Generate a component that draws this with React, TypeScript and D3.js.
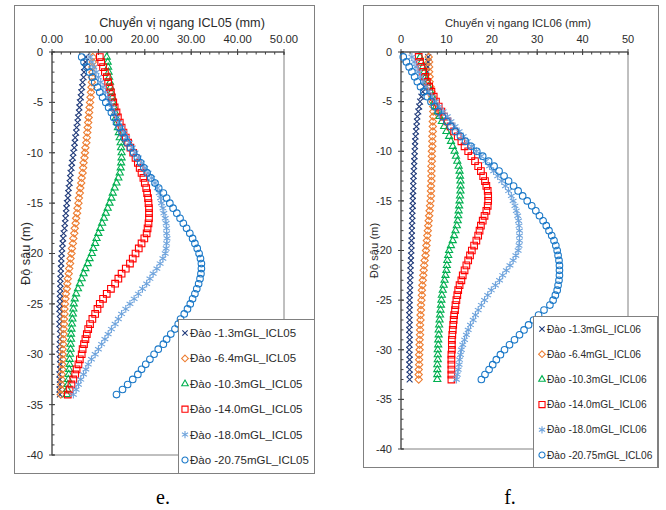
import React from 'react';
import * as d3 from 'd3';

// depth of each inclinometer reading (m), every 0.5 m
const DEPTHS = [
  -0.5, -1, -1.5, -2, -2.5, -3, -3.5, -4, -4.5, -5,
  -5.5, -6, -6.5, -7, -7.5, -8, -8.5, -9, -9.5, -10,
  -10.5, -11, -11.5, -12, -12.5, -13, -13.5, -14, -14.5, -15,
  -15.5, -16, -16.5, -17, -17.5, -18, -18.5, -19, -19.5, -20,
  -20.5, -21, -21.5, -22, -22.5, -23, -23.5, -24, -24.5, -25,
  -25.5, -26, -26.5, -27, -27.5, -28, -28.5, -29, -29.5, -30,
  -30.5, -31, -31.5, -32, -32.5, -33, -33.5, -34,
];

const STAGES = ['Đào -1.3mGL', 'Đào -6.4mGL', 'Đào -10.3mGL', 'Đào -14.0mGL', 'Đào -18.0mGL', 'Đào -20.75mGL'];

// ICL05 horizontal displacement (mm)
const icl05_s1 = [7.3,7.2,7.0,6.9,6.8,6.6,6.5,6.3,6.2,6.0,5.9,5.8,5.6,5.5,5.3,5.2,5.0,4.9,4.8,4.6,4.5,4.3,4.2,4.0,3.9,3.8,3.6,3.5,3.4,3.2,3.1,3.0,2.9,2.8,2.7,2.5,2.4,2.3,2.2,2.1,2.0,2.0,1.9,1.9,1.8,1.8,1.8,1.7,1.7,1.7,1.6,1.7,1.7,1.6,1.7,1.8,1.7,1.7,1.6,1.7,1.7,1.8,1.7,1.6,1.7,1.7,1.6,1.7];
const icl05_s2 = [8.8,8.8,8.7,8.7,8.6,8.6,8.5,8.4,8.3,8.2,8.1,8.0,7.9,7.8,7.7,7.6,7.5,7.4,7.2,7.1,7.0,6.8,6.7,6.6,6.4,6.3,6.1,6.0,5.8,5.7,5.5,5.4,5.2,5.1,4.9,4.8,4.6,4.5,4.3,4.2,4.0,3.9,3.7,3.6,3.4,3.3,3.2,3.0,2.9,2.8,2.7,2.7,2.6,2.6,2.5,2.5,2.4,2.4,2.3,2.3,2.3,2.2,2.2,2.1,2.1,2.0,2.0,1.9];
const icl05_s3 = [11.8,12.0,12.1,12.2,12.3,12.5,12.6,12.8,13.0,13.2,13.4,13.6,13.8,14.0,14.2,14.4,14.6,14.8,14.9,15.0,15.0,14.9,14.8,14.6,14.3,13.9,13.5,13.1,12.8,12.4,12.0,11.6,11.2,10.8,10.4,10.0,9.6,9.3,8.9,8.6,8.1,7.7,7.2,6.8,6.4,6.0,5.6,5.2,4.9,4.7,4.6,4.5,4.4,4.3,4.2,4.1,4.1,4.0,4.0,3.9,3.8,3.8,3.7,3.6,3.5,3.4,3.3,3.2];
const icl05_s4 = [10.3,10.6,11.0,11.4,11.8,12.1,12.4,12.7,12.9,13.2,13.5,13.9,14.2,14.6,15.0,15.4,15.9,16.4,16.9,17.5,18.0,18.5,18.9,19.3,19.7,20.0,20.3,20.5,20.7,20.8,20.9,20.9,20.9,20.8,20.6,20.4,19.9,19.3,18.7,18.0,17.4,16.8,15.9,15.0,14.3,13.6,12.7,11.8,11.0,10.3,9.8,9.3,8.7,8.2,7.8,7.5,7.2,6.9,6.6,6.4,6.0,5.7,5.3,5.0,4.6,4.2,3.8,3.4];
const icl05_s5 = [8.2,8.6,9.0,9.5,10.0,10.5,11.0,11.5,12.0,12.5,12.9,13.4,13.9,14.4,15.0,15.5,16.1,16.7,17.3,17.9,18.6,19.3,20.0,20.7,21.5,22.2,22.7,23.1,23.4,23.6,23.9,24.1,24.4,24.6,24.7,24.7,24.8,24.7,24.6,24.4,23.9,23.3,22.6,21.8,21.1,20.4,19.5,18.6,17.7,16.8,15.9,15.0,14.3,13.6,12.8,12.1,11.4,10.7,10.0,9.3,8.5,7.8,7.3,6.8,6.2,5.7,5.2,4.6];
const icl05_s6 = [6.4,6.9,7.5,8.1,8.7,9.2,9.8,10.3,10.9,11.6,12.2,12.8,13.3,13.9,14.5,15.1,15.6,16.2,16.9,17.6,18.4,19.1,19.8,20.5,21.3,22.2,23.0,24.0,24.7,25.4,26.1,26.9,27.6,28.3,29.0,29.7,30.3,30.8,31.3,31.7,32.0,32.2,32.2,32.1,31.9,31.6,31.2,30.8,30.3,29.8,29.2,28.5,27.7,27.2,26.5,25.6,24.7,24.0,22.9,22.0,21.1,20.2,19.3,18.5,17.4,16.3,15.2,13.9];

// ICL06 horizontal displacement (mm), readings down to -33 m
const icl06_s1 = [6.0,6.0,5.9,5.8,5.6,5.4,5.1,4.8,4.5,4.2,4.0,3.8,3.6,3.5,3.4,3.3,3.2,3.1,3.1,3.0,3.0,2.9,2.9,2.8,2.8,2.7,2.7,2.7,2.6,2.6,2.6,2.5,2.5,2.5,2.4,2.4,2.4,2.3,2.3,2.3,2.2,2.2,2.1,2.1,2.1,2.0,2.0,2.0,1.9,1.9,1.9,1.9,1.8,1.9,1.9,1.8,1.9,1.9,1.9,1.8,1.9,1.9,1.8,1.9,1.9,1.9];
const icl06_s2 = [6.1,6.2,6.2,6.2,6.3,6.3,6.5,6.7,6.9,7.0,7.1,7.1,7.1,7.0,7.0,7.0,6.9,6.9,6.9,6.8,6.8,6.8,6.7,6.7,6.7,6.7,6.6,6.6,6.6,6.5,6.4,6.3,6.2,6.1,6.0,5.9,5.8,5.7,5.6,5.5,5.4,5.2,5.1,5.0,4.9,4.8,4.7,4.6,4.6,4.5,4.4,4.4,4.3,4.3,4.2,4.2,4.2,4.1,4.1,4.1,4.0,4.0,4.0,3.9,3.9,3.9];
const icl06_s3 = [4.2,4.5,4.8,5.1,5.4,5.8,6.1,6.5,6.9,7.3,7.7,8.1,8.5,9.0,9.5,10.0,10.6,11.0,11.4,11.8,12.1,12.4,12.7,12.9,13.0,13.1,13.1,13.1,13.0,12.9,12.8,12.7,12.6,12.5,12.3,12.0,11.7,11.4,11.0,10.6,10.4,10.2,10.1,10.0,9.8,9.6,9.4,9.2,9.0,8.9,8.8,8.7,8.6,8.5,8.4,8.3,8.3,8.2,8.2,8.1,8.1,8.1,8.0,8.0,8.0,8.0];
const icl06_s4 = [3.9,4.2,4.5,4.9,5.3,5.7,6.2,6.7,7.2,7.7,8.3,8.9,9.5,10.2,10.9,11.7,12.5,13.3,14.0,14.8,15.5,16.3,17.0,17.6,18.1,18.5,18.8,19.1,19.2,19.2,19.1,18.8,18.4,18.0,17.6,17.3,17.0,16.6,16.1,15.6,15.2,14.8,14.4,14.0,13.6,13.3,12.9,12.6,12.4,12.2,12.0,11.9,11.7,11.6,11.5,11.4,11.3,11.2,11.2,11.2,11.1,11.1,11.1,11.1,11.1,11.1];
const icl06_s5 = [2.4,2.9,3.3,3.8,4.3,4.9,5.5,6.1,6.8,7.6,8.4,9.3,10.2,11.0,11.9,12.8,13.7,14.6,15.6,16.6,17.6,18.6,19.5,20.4,21.3,22.2,23.0,23.7,24.3,24.7,25.1,25.4,25.7,25.9,26.0,26.1,26.1,26.1,26.0,25.8,25.3,24.7,24.0,23.2,22.4,21.7,20.8,19.9,19.1,18.4,17.7,17.0,16.4,15.9,15.3,14.8,14.4,14.0,13.6,13.3,13.1,12.9,12.8,12.6,12.4,12.2];
const icl06_s6 = [0.5,1.2,1.8,2.4,3.0,3.6,4.3,5.0,5.8,6.6,7.4,8.2,9.1,10.1,11.0,12.0,13.1,14.2,15.4,16.7,18.0,19.3,20.5,21.6,22.7,23.7,24.8,25.8,26.8,27.8,28.8,29.7,30.5,31.3,32.0,32.6,33.2,33.7,34.1,34.4,34.6,34.8,34.9,34.9,34.9,34.8,34.6,34.4,34.0,33.5,32.8,31.5,30.3,29.2,28.1,27.1,26.1,25.0,23.9,22.8,21.9,21.0,20.2,19.4,18.5,17.7];

const COLORS = ['#1f3a7a', '#ed7d31', '#00b050', '#ff0000', '#6ea3dc', '#1a78c8'];
const SYMBOLS = [(d3 as any).symbolTimes || d3.symbolCross, d3.symbolDiamond2, d3.symbolTriangle2, d3.symbolSquare2, d3.symbolAsterisk, d3.symbolCircle];
const SIZES = [24, 34, 36, 56, 42, 34];

const FONT = '"Liberation Sans", Arial, sans-serif';

function Panel(props: any) {
  const { frame, plot, title, titleX, fmt, series, suffix, legend, fs, yLabelX, caption } = props;
  const x = d3.scaleLinear().domain([0, 50]).range([plot.left, plot.right]);
  const y = d3.scaleLinear().domain([0, -40]).range([plot.top, plot.bottom]);
  const axisColor = '#404040';
  const txt = '#2b2b2b';

  return (
    <g>
      <rect x={frame.x0 + 0.5} y={frame.y0 + 0.5} width={frame.x1 - frame.x0} height={frame.y1 - frame.y0} fill="#fff" stroke="#808080" strokeWidth={1} />
      <text x={titleX} y={27} textAnchor="middle" fontSize={fs.title} fontFamily={FONT} fill={txt}>{title}</text>
      <rect x={plot.left} y={plot.top} width={plot.right - plot.left} height={plot.bottom - plot.top} fill="none" stroke="#808080" strokeWidth={1} />
      {/* top axis */}
      <line x1={plot.left} x2={plot.right} y1={plot.top} y2={plot.top} stroke={axisColor} />
      {x.ticks(25).map((t) => (
        <line key={'xm' + t} x1={x(t)} x2={x(t)} y1={plot.top} y2={plot.top + 2.5} stroke={axisColor} />
      ))}
      {x.ticks(5).map((t) => (
        <g key={'x' + t}>
          <line x1={x(t)} x2={x(t)} y1={plot.top - 3} y2={plot.top + 3} stroke={axisColor} />
          <text x={x(t)} y={43} textAnchor="middle" fontSize={fs.tick} fontFamily={FONT} fill={txt}>{fmt(t)}</text>
        </g>
      ))}
      {/* left axis */}
      <line x1={plot.left} x2={plot.left} y1={plot.top} y2={plot.bottom} stroke={axisColor} />
      {y.ticks(40).map((t) => (
        <line key={'ym' + t} x1={plot.left} x2={plot.left + 2.5} y1={y(t)} y2={y(t)} stroke={axisColor} />
      ))}
      {y.ticks(8).map((t) => (
        <g key={'y' + t}>
          <line x1={plot.left - 3} x2={plot.left + 3} y1={y(t)} y2={y(t)} stroke={axisColor} />
          <text x={plot.left - 9} y={y(t)} dy="0.35em" textAnchor="end" fontSize={fs.tick} fontFamily={FONT} fill={txt}>{t}</text>
        </g>
      ))}
      <text transform={`translate(${yLabelX},${(plot.top + plot.bottom) / 2}) rotate(-90)`} textAnchor="middle" dy="0.35em" fontSize={fs.title} fontFamily={FONT} fill={txt}>Độ sâu (m)</text>

      {series.map((vals: number[], i: number) => {
        const sym = d3.symbol().type(SYMBOLS[i]).size(SIZES[i])();
        return (
          <g key={'s' + i} fill="none" stroke={COLORS[i]} strokeWidth={1.1}>
            {vals.map((v, j) => (
              <path key={j} d={sym as string} transform={`translate(${x(v)},${y(DEPTHS[j])})`} />
            ))}
          </g>
        );
      })}

      <rect x={legend.x + 0.5} y={legend.y + 0.5} width={legend.w} height={legend.h} fill="#fff" stroke="#808080" />
      {STAGES.map((s, i) => {
        const sym = d3.symbol().type(SYMBOLS[i]).size(SIZES[i] * 0.85)();
        const cy = legend.itemY + i * legend.step;
        return (
          <g key={'l' + i}>
            <path d={sym as string} transform={`translate(${legend.x + legend.mx},${cy})`} fill="none" stroke={COLORS[i]} strokeWidth={1.1} />
            <text x={legend.x + legend.tx} y={cy} dy="0.35em" fontSize={fs.legend} fontFamily={FONT} fill={txt}>{s + suffix}</text>
          </g>
        );
      })}
      <text x={caption} y={504} textAnchor="middle" fontSize={20} fontFamily='"Liberation Serif", "Times New Roman", serif' fill="#000">
        {suffix === '_ICL05' ? 'e.' : 'f.'}
      </text>
    </g>
  );
}

export default function App() {
  return (
    <svg width={666} height={510} style={{ position: 'absolute', left: 0, top: 0, background: '#fff' }}>
      <rect width={666} height={510} fill="#fff" />
      <Panel
        frame={{ x0: 14, y0: 5, x1: 314, y1: 473 }}
        plot={{ left: 52, top: 52, right: 284, bottom: 455 }}
        title="Chuyển vị ngang ICL05 (mm)"
        titleX={182}
        fmt={d3.format('.2f')}
        series={[icl05_s1, icl05_s2, icl05_s3, icl05_s4, icl05_s5, icl05_s6]}
        suffix="_ICL05"
        legend={{ x: 178, y: 319, w: 136, h: 154, itemY: 333, step: 25.4, mx: 7, tx: 12 }}
        fs={{ title: 12.7, tick: 11.3, legend: 11.5 }}
        yLabelX={26}
        caption={163}
      />
      <Panel
        frame={{ x0: 363, y0: 5, x1: 658, y1: 467 }}
        plot={{ left: 401, top: 52, right: 628, bottom: 449 }}
        title="Chuyển vị ngang ICL06 (mm)"
        titleX={518}
        fmt={d3.format('d')}
        series={[icl06_s1, icl06_s2, icl06_s3, icl06_s4, icl06_s5, icl06_s6]}
        suffix="_ICL06"
        legend={{ x: 533, y: 316, w: 124, h: 151, itemY: 329, step: 25.2, mx: 9, tx: 14 }}
        fs={{ title: 11.2, tick: 11, legend: 10.2 }}
        yLabelX={374}
        caption={510}
      />
    </svg>
  );
}
